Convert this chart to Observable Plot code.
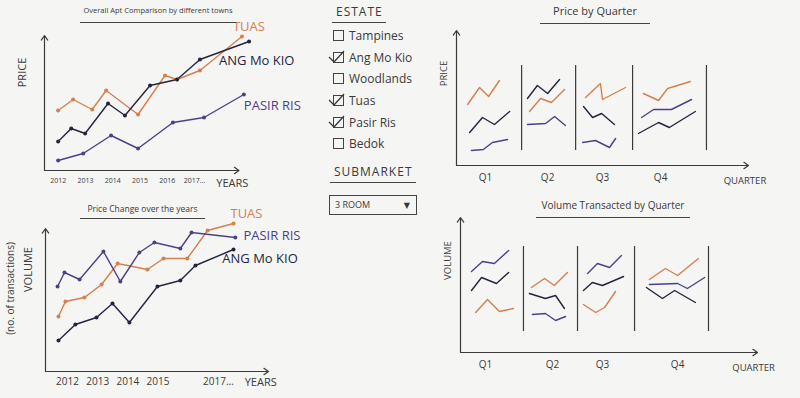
<!DOCTYPE html>
<html>
<head>
<meta charset="utf-8">
<script src="https://cdn.jsdelivr.net/npm/d3@7"></script>
<script src="https://cdn.jsdelivr.net/npm/@observablehq/plot@0.6"></script>
<style>
  html, body { margin: 0; padding: 0; background: #f5f5f4; }
  #board { position: relative; width: 800px; height: 398px; overflow: hidden;
           font-family: "Open Sans", "DejaVu Sans", sans-serif; color: #3a3a3a; }
  .title { position: absolute; text-align: center; white-space: nowrap;
           border-bottom: 1.3px solid #444; }
  .heading { position: absolute; font-size: 12px; letter-spacing: 1px; line-height: 14px;
             border-bottom: 1.3px solid #444; padding: 0 3px 3px 4px; }
  .opts { position: absolute; left: 333px; top: 25px; }
  .opt { height: 21.6px; display: flex; align-items: center; font-size: 12px; white-space: nowrap; }
  .box { position: relative; width: 9px; height: 9px; border: 1.2px solid #444; margin-right: 5px; }
  .box svg { position: absolute; left: -6px; top: -3px; overflow: visible; }
  .select { position: absolute; left: 329px; top: 195px; width: 86px; height: 18px;
            border: 1.2px solid #444; font-size: 9px; line-height: 18px; }
  .select span { position: absolute; }
  .chart { position: absolute; }
</style>
</head>
<body>
<div id="board"></div>
<script>
// ---- data -------------------------------------------------------------
const estates = ["Tuas", "Ang Mo Kio", "Pasir Ris"];
const estateColors = ["#d4804f", "#23253f", "#4a4289"];

// Overall comparison: sampling dates (decimal years) and price level
const overallTuasYear   = [2012.0, 2012.55, 2013.25, 2013.76, 2014.93, 2015.92, 2016.36, 2017.2, 2018.74];
const overallTuasPrice  = [60, 71, 61, 80, 56, 95, 91, 100, 134];
const overallAmkYear    = [2012.0, 2012.48, 2012.99, 2013.83, 2014.45, 2015.37, 2016.36, 2017.2, 2019.0];
const overallAmkPrice   = [29, 42, 37, 67, 55, 85, 91, 111, 129];
const overallPasirYear  = [2012.0, 2012.92, 2013.94, 2014.93, 2016.21, 2017.35, 2018.81];
const overallPasirPrice = [10, 17, 35, 22, 48, 53, 76];
const overallTicks      = [2012, 2013, 2014, 2015, 2016, 2017];
const overallTickLabels = ["2012", "2013", "2014", "2015", "2016", "2017…"];
const overallNames      = ["TUAS", "ANG Mo KIO", "PASIR RIS"];
const overallNameYear   = [2018.41, 2017.9, 2018.81];
const overallNameValue  = [144, 110, 65];

// Change over the years: sampling dates and volume
const changeTuasYear  = [2011.70, 2011.93, 2012.56, 2013.13, 2013.66, 2014.65, 2015.18, 2015.97, 2016.64, 2017.50];
const changeTuasVol   = [55, 70, 74, 87, 108, 102, 113, 113, 141, 148];
const changeAmkYear   = [2011.70, 2012.26, 2012.96, 2013.49, 2014.05, 2014.98, 2015.74, 2016.24, 2017.50];
const changeAmkVol    = [31, 47, 54, 68, 49, 85, 91, 106, 122];
const changePasirYear = [2011.67, 2011.90, 2012.40, 2013.19, 2013.75, 2014.38, 2014.88, 2015.74, 2016.11, 2017.56];
const changePasirVol  = [85, 99, 92, 120, 90, 119, 129, 123, 139, 134];
const changeTicks      = [2012, 2013, 2014, 2015, 2017];
const changeTickLabels = ["2012", "2013", "2014", "2015", "2017…"];
const changeNames      = ["TUAS", "ANG Mo KIO", "PASIR RIS"];
const changeNameYear   = [2017.40, 2017.13, 2017.83];
const changeNameValue  = [158, 113, 136];

// Quarterly views: position along the quarter axis (0–100), four samples per quarter
const quarters = ["Q1", "Q2", "Q3", "Q4"];

const qPriceTuasT  = [3.8, 7.9, 11.0, 14.7, 25.0, 28.8, 32.5, 37.0, 44.2, 49.3, 50.0, 57.9, 64.0, 69.2, 72.3, 80.1];
const qPriceTuasV  = [61, 78, 69, 85, 54, 67, 63, 76, 68, 82, 66, 78, 72, 65, 77, 84];
const qPriceAmkT   = [4.5, 8.9, 13.0, 18.2, 24.3, 27.7, 31.2, 35.3, 43.5, 46.6, 49.7, 54.1, 62.3, 69.2, 72.9, 81.8];
const qPriceAmkV   = [33, 48, 41, 54, 67, 80, 72, 86, 59, 48, 52, 41, 32, 43, 38, 54];
const qPricePasirT = [5.1, 9.2, 12.3, 17.5, 24.3, 30.5, 33.6, 37.3, 43.2, 47.6, 52.4, 54.5, 63.4, 67.5, 73.6, 80.5];
const qPricePasirV = [15, 16, 23, 26, 41, 42, 49, 40, 23, 25, 18, 27, 48, 56, 56, 66];
const qPriceSeparators = [22.3, 40.8, 60.3, 85.6];
const qPriceLabelPos   = [9.9, 31.2, 50.0, 69.9];

const qVolTuasT  = [5.1, 9.1, 13.1, 17.8, 23.9, 28.3, 31.6, 36.0, 41.4, 45.5, 48.5, 52.2, 63.6, 69.0, 73.1, 80.1];
const qVolTuasV  = [40, 53, 41, 44, 65, 74, 67, 80, 48, 40, 45, 61, 73, 84, 77, 94];
const qVolAmkT   = [3.7, 7.1, 12.1, 16.2, 23.2, 28.6, 32.0, 35.0, 41.4, 44.4, 47.8, 54.9, 62.6, 68.0, 72.1, 79.1];
const qVolAmkV   = [62, 75, 69, 80, 59, 54, 57, 44, 62, 70, 67, 76, 65, 54, 62, 50];
const qVolPasirT = [3.7, 7.4, 11.4, 16.2, 24.2, 28.6, 32.0, 35.4, 42.8, 46.1, 50.2, 54.2, 63.6, 73.1, 76.4, 82.2];
const qVolPasirV = [81, 91, 89, 102, 38, 39, 32, 36, 79, 89, 85, 97, 68, 69, 64, 75];
const qVolSeparators = [21.2, 39.4, 58.6, 83.5];
const qVolLabelPos   = [8.4, 31.0, 47.8, 73.1];

// Filter panel
const estateOptions = ["Tampines", "Ang Mo Kio", "Woodlands", "Tuas", "Pasir Ris", "Bedok"];
const estateChecked = ["Ang Mo Kio", "Tuas", "Pasir Ris"];
const subMarket = "3 ROOM";

// ---- helpers ----------------------------------------------------------
const INK = "#3a3a3a";
const FONT = "'Open Sans', 'DejaVu Sans', sans-serif";
const board = document.getElementById("board");

function series(estate, xs, vs) {
  return xs.map((x, i) => ({estate, x, v: vs[i]}));
}
function quarterSeries(estate, xs, vs) {
  return xs.map((x, i) => ({estate, x, v: vs[i], key: estate + quarters[Math.floor(i / 4)]}));
}
function labels(names, xs, vs) {
  return names.map((text, i) => ({estate: estates[i], text, x: xs[i], v: vs[i]}));
}
function arrows(x0, x1, y0, y1) {
  return Plot.arrow(
    [{x1: x0, y1: y0, x2: x1, y2: y0}, {x1: x0, y1: y0, x2: x0, y2: y1}],
    {x1: "x1", y1: "y1", x2: "x2", y2: "y2", stroke: INK, strokeWidth: 1.2, headLength: 7, headAngle: 70}
  );
}
function mount(node, left, top) {
  node.classList.add("chart");
  node.style.left = left + "px";
  node.style.top = top + "px";
  board.appendChild(node);
}
function title(text, left, top, width, size, lineHeight, pad) {
  const d = document.createElement("div");
  d.className = "title";
  d.textContent = text;
  Object.assign(d.style, {left: left + "px", top: top + "px", width: width + "px",
    fontSize: size + "px", lineHeight: lineHeight + "px", paddingBottom: pad + "px"});
  board.appendChild(d);
}
const colorScale = {domain: estates, range: estateColors};
const baseStyle = {background: "transparent", overflow: "visible", fontFamily: FONT};

// ---- overall comparison -----------------------------------------------
const overall = [
  ...series("Tuas", overallTuasYear, overallTuasPrice),
  ...series("Ang Mo Kio", overallAmkYear, overallAmkPrice),
  ...series("Pasir Ris", overallPasirYear, overallPasirPrice)
];
mount(Plot.plot({
  width: 310, height: 195, marginLeft: 44, marginRight: 56, marginTop: 30, marginBottom: 25,
  x: {domain: [2011.5, 2019.2], axis: null},
  y: {domain: [0, 140], axis: null},
  color: colorScale,
  style: baseStyle,
  marks: [
    arrows(2011.5, 2018.63, 0, 135),
    Plot.line(overall, {x: "x", y: "v", z: "estate", stroke: "estate", strokeWidth: 1.4}),
    Plot.dot(overall, {x: "x", y: "v", fill: "estate", r: 2}),
    Plot.text(overallTicks, {x: d => d, y: 0, text: (d, i) => overallTickLabels[i], dy: 10, fontSize: 7, fill: INK}),
    Plot.text(["YEARS"], {x: 2017.8, y: 0, dy: 13, textAnchor: "start", fontSize: 11, fill: INK}),
    Plot.text(["PRICE"], {x: 2011.5, y: 98, dx: -22, rotate: -90, fontSize: 11, fill: INK}),
    Plot.text(labels(overallNames, overallNameYear, overallNameValue),
      {x: "x", y: "v", text: "text", fill: "estate", textAnchor: "start", fontSize: 13})
  ]
}), 0, 0);
title("Overall Apt Comparison by different towns", 80, 4, 156, 7.5, 12, 6);

// ---- change over the years --------------------------------------------
const change = [
  ...series("Tuas", changeTuasYear, changeTuasVol),
  ...series("Ang Mo Kio", changeAmkYear, changeAmkVol),
  ...series("Pasir Ris", changePasirYear, changePasirVol)
];
mount(Plot.plot({
  width: 320, height: 203, marginLeft: 45, marginRight: 52, marginTop: 26, marginBottom: 27,
  x: {domain: [2011.27, 2018.66], axis: null},
  y: {domain: [0, 150], axis: null},
  color: colorScale,
  style: baseStyle,
  marks: [
    arrows(2011.27, 2018.66, 0, 143),
    Plot.line(change, {x: "x", y: "v", z: "estate", stroke: "estate", strokeWidth: 1.4}),
    Plot.dot(change, {x: "x", y: "v", fill: "estate", r: 2}),
    Plot.text(changeTicks, {x: d => d, y: 0, text: (d, i) => changeTickLabels[i], dy: 10, fontSize: 10, fill: INK}),
    Plot.text(["YEARS"], {x: 2017.87, y: 0, dy: 11, textAnchor: "start", fontSize: 11, fill: INK}),
    Plot.text(["VOLUME"], {x: 2011.27, y: 102, dx: -17, rotate: -90, fontSize: 11, fill: INK}),
    Plot.text(["(no. of transactions)"], {x: 2011.27, y: 83, dx: -35, rotate: -90, fontSize: 10, fill: INK}),
    Plot.text(labels(changeNames, changeNameYear, changeNameValue),
      {x: "x", y: "v", text: "text", fill: "estate", textAnchor: "start", fontSize: 13})
  ]
}), 0, 195);
title("Price Change over the years", 80, 203, 125, 8.5, 12, 3);

// ---- quarterly charts ---------------------------------------------------
function quarterChart({data, separators, labelPos, width, height, margins, yLabel, sepTop, sepBottom}) {
  return Plot.plot({
    width, height, ...margins,
    x: {domain: [0, 100], axis: null},
    y: {domain: [0, 135], axis: null},
    color: colorScale,
    style: baseStyle,
    marks: [
      arrows(0, 100, 0, 135),
      Plot.ruleX(separators, {x: d => d, y1: sepBottom, y2: sepTop, stroke: INK, strokeWidth: 1.2}),
      Plot.line(data, {x: "x", y: "v", z: "key", stroke: "estate", strokeWidth: 1.4}),
      Plot.text(quarters, {x: (d, i) => labelPos[i], y: 0, dy: 12, fontSize: 10, fill: INK}),
      Plot.text(["QUARTER"], {x: 91.5, y: 0, dy: 15, textAnchor: "start", fontSize: 9.5, fill: INK}),
      Plot.text([yLabel], {x: 0, y: 92, dx: -13, rotate: -90, fontSize: 9.5, fill: INK})
    ]
  });
}

const qPrice = [
  ...quarterSeries("Tuas", qPriceTuasT, qPriceTuasV),
  ...quarterSeries("Ang Mo Kio", qPriceAmkT, qPriceAmkV),
  ...quarterSeries("Pasir Ris", qPricePasirT, qPricePasirV)
];
mount(quarterChart({
  data: qPrice, separators: qPriceSeparators, labelPos: qPriceLabelPos,
  width: 370, height: 200,
  margins: {marginLeft: 26, marginRight: 52, marginTop: 30, marginBottom: 35},
  yLabel: "PRICE", sepTop: 100, sepBottom: 15
}), 430, 0);
title("Price by Quarter", 540, 4, 110, 11, 14, 5);

const qVol = [
  ...quarterSeries("Tuas", qVolTuasT, qVolTuasV),
  ...quarterSeries("Ang Mo Kio", qVolAmkT, qVolAmkV),
  ...quarterSeries("Pasir Ris", qVolPasirT, qVolPasirV)
];
mount(quarterChart({
  data: qVol, separators: qVolSeparators, labelPos: qVolLabelPos,
  width: 370, height: 203,
  margins: {marginLeft: 30, marginRight: 43, marginTop: 22, marginBottom: 46},
  yLabel: "VOLUME", sepTop: 106, sepBottom: 21
}), 430, 195);
title("Volume Transacted by Quarter", 536, 199, 154, 10, 13, 5);

// ---- filter panel -------------------------------------------------------
const est = document.createElement("div");
est.className = "heading";
est.textContent = "ESTATE";
Object.assign(est.style, {left: "332px", top: "5px"});
board.appendChild(est);

const opts = document.createElement("div");
opts.className = "opts";
for (const name of estateOptions) {
  const row = document.createElement("div");
  row.className = "opt";
  const box = document.createElement("span");
  box.className = "box";
  if (estateChecked.includes(name)) {
    box.innerHTML = '<svg width="18" height="14"><polyline points="1,7 6,12 16,1" fill="none" stroke="#3a3a3a" stroke-width="1.3" stroke-linejoin="round"/></svg>';
  }
  row.appendChild(box);
  row.appendChild(document.createTextNode(name));
  opts.appendChild(row);
}
board.appendChild(opts);

const sub = document.createElement("div");
sub.className = "heading";
sub.textContent = "SUBMARKET";
Object.assign(sub.style, {left: "330px", top: "165px"});
board.appendChild(sub);

const sel = document.createElement("div");
sel.className = "select";
sel.innerHTML = `<span style="left:5px">${subMarket}</span><span style="right:6px;font-size:8px">▼</span>`;
board.appendChild(sel);
</script>
</body>
</html>
